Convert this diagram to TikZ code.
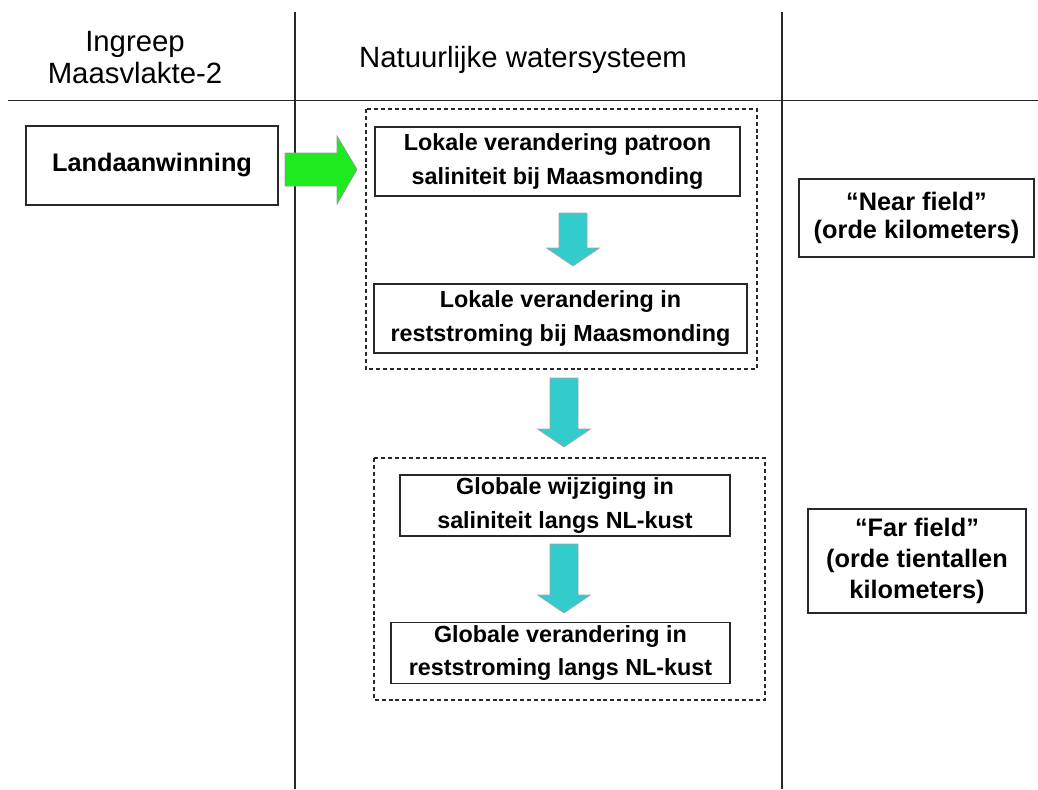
\documentclass[tikz,border=0pt]{standalone}
\usepackage{fontspec}
\setmainfont{Liberation Sans}
\usepackage{tikz}
\usetikzlibrary{positioning}
\definecolor{arrowteal}{RGB}{51,204,204}
\definecolor{arrowgreen}{RGB}{30,235,30}
\definecolor{linegray}{RGB}{40,40,40}

% block arrow pointing down: x, top y, length
\newcommand{\blockdown}[3]{%
	\draw[tstyle] (#1-14,#2) -- ++(28,0) -- ++(0,#3-18) -- ++(12.5,0)
		-- (#1,#2+#3) -- ++(-26.5,-18) -- ++(12.5,0) -- cycle;}

\begin{document}
\begin{tikzpicture}[x=0.75pt, y=-0.75pt,
	bstyle/.style={rectangle, draw=linegray, line width=1.1pt, align=center,
	inner sep=0pt, font=\fontsize{17.5}{25}\selectfont\bfseries},
	hstyle/.style={align=center, inner sep=0pt,
	font=\fontsize{22}{24}\selectfont},
	dstyle/.style={draw=linegray, dashed, dash pattern=on 3pt off 2.2pt, line width=0.8pt},
	tstyle/.style={fill=arrowteal, draw=gray!70, line width=0.5pt},
	gstyle/.style={fill=arrowgreen, draw=gray!80, line width=0.6pt}
	]
	\useasboundingbox (0,0) rectangle (1038,789);
	
	% table lines
	\draw[linegray, line width=1.1pt] (8,100.5) -- (1038,100.5);
	\draw[linegray, line width=1.1pt] (295,12) -- (295,789);
	\draw[linegray, line width=1.1pt] (782,12) -- (782,789);
	
	% headers
	\node[hstyle] (ingreep) at (135,58) {Ingreep\\Maasvlakte-2};
	\node[hstyle] (natuur) at (523,60) {Natuurlijke watersysteem};
	
	% dashed groups
	\draw[dstyle] (366,109) rectangle (757,369);
	\draw[dstyle] (374,458) rectangle (765,700);
	
	% boxes
	\node[bstyle, minimum width=252*0.75pt, minimum height=79*0.75pt,
		font=\fontsize{19}{25}\selectfont\bfseries] (land) at (152,165.5) {Landaanwinning};
	\node[bstyle, minimum width=365*0.75pt, minimum height=69*0.75pt] (lokaalA) at (557.5,161.5)
		{Lokale verandering patroon\\saliniteit bij Maasmonding};
	\node[bstyle, minimum width=373*0.75pt, minimum height=69*0.75pt] (lokaalB) at (560.5,318.5)
		{Lokale verandering in\\reststroming bij Maasmonding};
	\node[bstyle, minimum width=330*0.75pt, minimum height=61*0.75pt] (globaalA) at (565,505.5)
		{Globale wijziging in\\saliniteit langs NL-kust};
	\node[bstyle, minimum width=339*0.75pt, minimum height=61*0.75pt] (globaalB) at (560.5,653)
		{Globale verandering in\\reststroming langs NL-kust};
	\node[bstyle, minimum width=235*0.75pt, minimum height=78*0.75pt,
		font=\fontsize{19}{21}\selectfont\bfseries] (near) at (916.5,218)
		{``Near field''\\(orde kilometers)};
	\node[bstyle, minimum width=218*0.75pt, minimum height=104*0.75pt,
		font=\fontsize{19}{23}\selectfont\bfseries] (far) at (917,561)
		{``Far field''\\(orde tientallen\\kilometers)};
	
	% arrows
	\draw[gstyle] (285,153) -- (337,153) -- (337,136) -- (357,169.5) -- (337,204)
		-- (337,186) -- (285,186) -- cycle;
	\blockdown{573}{213}{53}
	\blockdown{564}{378}{69}
	\blockdown{564}{544}{69}
\end{tikzpicture}
\end{document}
